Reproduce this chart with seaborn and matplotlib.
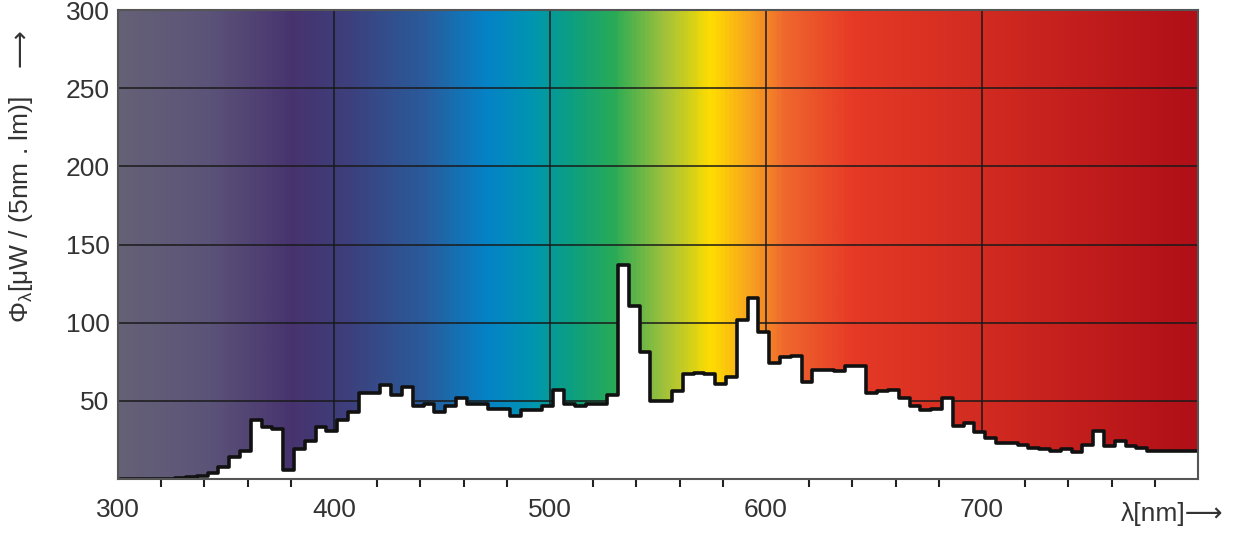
import numpy as np
import pandas as pd
import seaborn as sns
import matplotlib.pyplot as plt
from matplotlib.colors import LinearSegmentedColormap

# band start wavelengths (nm), 5 nm bands
wavelength = list(range(300, 800, 5))
flux = [0, 0, 0, 0, 0.3, 0.5, 1, 2, 4, 8, 14, 18, 38, 33, 32, 6, 19, 24, 33, 31,
        38, 43, 55, 55, 60, 54, 59, 47, 48, 43, 47, 52, 48, 48, 45, 45, 40, 44, 44, 47,
        57, 48, 47, 48, 48, 54, 137, 111, 81, 50, 50, 56, 67, 68, 67, 61, 65, 102, 116, 94,
        74, 78, 79, 62, 70, 70, 69, 72, 72, 55, 56, 57, 52, 47, 44, 45, 52, 34, 36, 30,
        26, 23, 23, 22, 20, 19, 18, 19, 17, 22, 31, 21, 24, 21, 20, 18, 18, 18, 18, 18]
x_ticks = [300, 400, 500, 600, 700]
y_ticks = [50, 100, 150, 200, 250, 300]

# spectrum background colours
spec_pos = [300, 340, 380, 405, 440, 470, 492, 510, 530, 552, 575, 592, 608, 640, 700, 800]
spec_col = ["#656176", "#5c5479", "#47336e", "#3d3f7c", "#2b5a9a", "#0582c6",
            "#0096b0", "#0d9f80", "#2aab55", "#9cc03c", "#ffdd00", "#f8a51e",
            "#f06a2e", "#e63a26", "#d22b21", "#b00f18"]

plt.rcParams['font.family'] = ['Liberation Sans', 'DejaVu Sans']
plt.rcParams['mathtext.fontset'] = 'custom'
plt.rcParams['mathtext.rm'] = 'Liberation Sans'
plt.rcParams['mathtext.it'] = 'Liberation Sans'

df = pd.DataFrame({"wavelength": wavelength + [800], "flux": flux + [flux[-1]]})

fig = plt.figure(figsize=(12.5, 5.33), dpi=100)
ax = fig.add_axes([0.0944, 0.1013, 0.864, 0.8797])

cmap = LinearSegmentedColormap.from_list(
    "spec", [((p - 300) / 500, c) for p, c in zip(spec_pos, spec_col)])
ax.imshow(np.linspace(0, 1, 500)[None, :], cmap=cmap, aspect="auto",
          extent=[300, 800, 0, 300], zorder=0)

ax.fill_between(df["wavelength"] + 1.5, 0, df["flux"], step="post", color="white", zorder=1)
sns.lineplot(x=df["wavelength"] + 1.5, y=df["flux"], drawstyle="steps-post",
             color="#111111", linewidth=2.6, ax=ax, zorder=3)

ax.set_xlim(300, 800)
ax.set_ylim(0, 300)
ax.set_xticks(x_ticks + [800])
ax.set_xticklabels([str(t) for t in x_ticks] + [""], fontsize=19, color="#333333")
ax.set_xticks(np.arange(300, 801, 20), minor=True)
ax.set_yticks(y_ticks)
ax.set_yticklabels([str(t) for t in y_ticks], fontsize=19, color="#333333")
ax.tick_params(axis="x", which="both", direction="out", length=6, width=1.5, color="#222222")
ax.tick_params(axis="y", length=0, pad=6)
ax.tick_params(axis="x", which="major", length=0, pad=14)
ax.set_axisbelow(True)
ax.grid(True, color="#1a1a1a", linewidth=1.1)
for s in ax.spines.values():
    s.set_color("#555555")
    s.set_linewidth(1.5)
    s.set_zorder(4)

ax.set_xlabel("")
ax.set_ylabel("Φ$_{\\lambda}$[μW / (5nm . lm)]", fontsize=19, color="#333333")
ax.yaxis.set_label_coords(-0.077, 0.575)
fig.text(0.017, 0.91, "⟶", rotation=90, fontsize=19, color="#333333",
         family=['DejaVu Sans'], ha="center", va="center")
fig.text(0.897, 0.022, "λ[nm]⟶", fontsize=19, color="#333333")

fig.savefig("out.png", dpi=100)
